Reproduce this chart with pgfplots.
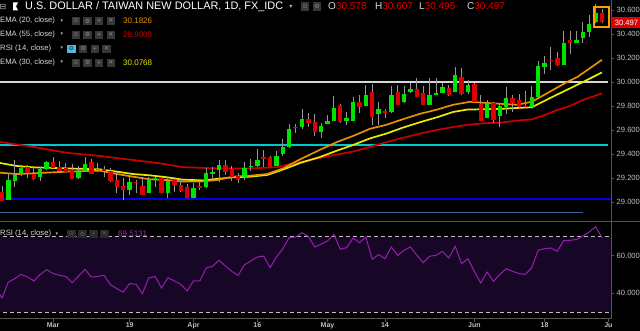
\documentclass[border=0pt]{standalone}
\usepackage{pgfplots}
\pgfplotsset{compat=1.18}
\usepackage{pgfplotstable}
\usepackage{fontspec}
\setmainfont{Liberation Sans}
\newfontfamily\dejavu{DejaVu Sans}
\definecolor{cgreen}{RGB}{0,226,0}
\definecolor{cred}{RGB}{222,0,0}
\definecolor{wick}{RGB}{150,150,150}
\definecolor{ema20}{RGB}{230,145,0}
\definecolor{ema30}{RGB}{235,235,0}
\definecolor{ema55}{RGB}{200,0,0}
\definecolor{rsiline}{RGB}{150,30,175}
\definecolor{rsibg}{RGB}{24,6,38}
\definecolor{axgray}{RGB}{85,85,85}
\definecolor{lblgray}{RGB}{190,190,190}
\definecolor{txtgray}{RGB}{215,215,215}
\definecolor{hcyan}{RGB}{0,200,210}
\definecolor{hblue}{RGB}{0,0,230}
\definecolor{hsteel}{RGB}{60,100,160}
\definecolor{hwhite}{RGB}{215,215,215}
\definecolor{iconbg}{RGB}{55,55,55}
\definecolor{iconfg}{RGB}{140,140,140}
\definecolor{iconbgd}{RGB}{42,42,42}
\definecolor{iconfgd}{RGB}{95,95,95}
\definecolor{icyan}{RGB}{80,185,225}
\definecolor{hlorange}{RGB}{255,160,0}

\pgfplotstableread{
i o h l c
0 29.081 29.133 29.011 29.011
1 29.017 29.239 29.017 29.183
2 29.178 29.350 29.128 29.225
3 29.230 29.308 29.217 29.286
4 29.289 29.308 29.197 29.239
5 29.233 29.300 29.183 29.192
6 29.206 29.294 29.175 29.278
7 29.278 29.344 29.267 29.331
8 29.333 29.372 29.275 29.286
9 29.294 29.342 29.253 29.258
10 29.281 29.322 29.247 29.253
11 29.267 29.314 29.189 29.194
12 29.197 29.303 29.192 29.250
13 29.258 29.372 29.253 29.317
14 29.336 29.361 29.233 29.236
15 29.265 29.322 29.253 29.272
16 29.275 29.300 29.211 29.260
17 29.258 29.280 29.169 29.175
18 29.183 29.253 29.072 29.128
19 29.136 29.197 29.017 29.100
20 29.100 29.217 29.058 29.164
21 29.169 29.183 29.078 29.156
22 29.133 29.206 29.058 29.058
23 29.072 29.211 29.072 29.189
24 29.183 29.211 29.128 29.203
25 29.197 29.211 29.072 29.078
26 29.078 29.211 29.031 29.178
27 29.183 29.206 29.086 29.142
28 29.142 29.197 29.086 29.094
29 29.128 29.150 29.031 29.031
30 29.031 29.161 29.031 29.114
31 29.136 29.170 29.100 29.120
32 29.122 29.281 29.114 29.239
33 29.233 29.289 29.183 29.247
34 29.267 29.350 29.170 29.306
35 29.306 29.350 29.225 29.253
36 29.272 29.300 29.178 29.211
37 29.217 29.239 29.161 29.183
38 29.206 29.336 29.183 29.281
39 29.295 29.355 29.261 29.303
40 29.300 29.439 29.289 29.350
41 29.372 29.433 29.294 29.356
42 29.378 29.383 29.281 29.281
43 29.300 29.428 29.300 29.383
44 29.400 29.522 29.383 29.456
45 29.456 29.650 29.447 29.606
46 29.628 29.650 29.578 29.614
47 29.622 29.772 29.606 29.689
48 29.689 29.739 29.628 29.661
49 29.664 29.731 29.550 29.586
50 29.586 29.661 29.536 29.633
51 29.653 29.725 29.653 29.675
52 29.678 29.883 29.678 29.780
53 29.808 29.817 29.656 29.669
54 29.675 29.753 29.642 29.697
55 29.678 29.878 29.678 29.836
56 29.836 29.892 29.744 29.794
57 29.800 29.975 29.800 29.892
58 29.919 29.983 29.642 29.711
59 29.733 29.836 29.642 29.772
60 29.758 29.775 29.697 29.739
61 29.753 29.967 29.744 29.889
62 29.917 29.975 29.808 29.808
63 29.836 29.967 29.828 29.900
64 29.920 29.989 29.906 29.944
65 29.944 30.030 29.878 29.878
66 29.911 29.967 29.806 29.806
67 29.806 30.030 29.806 29.894
68 29.889 30.030 29.889 29.905
69 29.905 29.989 29.905 29.956
70 29.947 29.975 29.883 29.892
71 29.920 30.122 29.920 30.061
72 30.039 30.114 29.892 29.897
73 29.920 30.017 29.900 29.975
74 29.983 29.989 29.836 29.836
75 29.817 29.892 29.678 29.678
76 29.697 29.850 29.697 29.822
77 29.822 29.836 29.656 29.683
78 29.717 29.817 29.628 29.800
79 29.794 29.956 29.733 29.864
80 29.864 29.892 29.753 29.822
81 29.850 29.900 29.781 29.794
82 29.803 29.928 29.789 29.789
83 29.789 29.967 29.789 29.872
84 29.878 30.178 29.878 30.133
85 30.128 30.217 30.067 30.161
86 30.181 30.294 30.100 30.175
87 30.203 30.253 30.133 30.142
88 30.142 30.428 30.142 30.322
89 30.350 30.428 30.233 30.322
90 30.322 30.428 30.322 30.350
91 30.364 30.503 30.328 30.419
92 30.419 30.558 30.378 30.483
93 30.503 30.650 30.489 30.578
94 30.578 30.607 30.495 30.497
}\ohlc

\pgfplotstableread{
i r
-1 43.0
0 37.4
1 45.9
2 47.7
3 50.0
4 48.6
5 46.5
6 50.0
7 52.5
8 50.4
9 49.5
10 48.9
11 45.6
12 49.1
13 52.7
14 48.6
15 48.9
16 49.5
17 44.5
18 42.4
19 40.6
20 45.1
21 44.7
22 39.8
23 48.1
24 48.9
25 42.7
26 48.2
27 46.5
28 44.7
29 41.2
30 46.5
31 46.5
32 53.4
33 54.3
34 57.5
35 54.4
36 51.6
37 49.5
38 55.1
39 57.1
40 59.2
41 59.7
42 53.6
43 59.2
44 63.6
45 69.5
46 69.8
47 72.1
48 70.2
49 64.5
50 66.0
51 67.7
52 71.3
53 63.3
54 64.2
55 69.3
56 66.8
57 69.8
58 58.0
59 60.5
60 58.3
61 64.5
62 60.1
63 62.8
64 64.5
65 60.1
66 56.2
67 59.6
68 60.1
69 62.2
70 58.7
71 64.9
72 55.7
73 58.3
74 51.6
75 45.4
76 51.2
77 46.3
78 50.0
79 53.0
80 51.6
81 50.4
82 50.0
83 53.5
84 62.8
85 63.6
86 64.0
87 62.2
88 67.9
89 68.1
90 68.5
91 70.4
92 72.5
93 75.3
94 69.5
}\rsi

\newcommand{\icn}[5]{\node[fill=#3, minimum width=8.3pt, minimum height=8.3pt, inner sep=0pt, text=#4, font=\dejavu\fontsize{6}{6}\selectfont] at (#1pt,#2pt) {#5};}
\newcommand{\rowlab}[2]{%
  \node[anchor=west, inner sep=0pt, text=txtgray, font=\fontsize{7.7}{9}\selectfont] at (0pt,#1pt) {#2};%
  \node[text=lblgray, font=\dejavu\fontsize{5}{5}\selectfont, inner sep=0pt] at (62pt,#1pt) {▾};}

\begin{document}
\begin{tikzpicture}
\fill[black] (0pt,0pt) rectangle (640pt,331pt);
\useasboundingbox (0pt,0pt) rectangle (640pt,331pt);

% ---------- price panel ----------
\begin{axis}[
  at={(0pt,110pt)}, anchor=south west,
  width=611pt, height=221pt, scale only axis,
  xmin=-0.31, xmax=95.41, ymin=28.8417, ymax=30.6833,
  axis x line=none, axis y line*=right,
  y axis line style={draw=axgray, line width=1pt},
  ytick={29,29.2,29.4,29.6,29.8,30,30.2,30.4,30.6},
  tick align=outside, major tick length=3pt,
  tick style={draw=axgray, line width=0.8pt},
  /pgf/number format/fixed, /pgf/number format/fixed zerofill,
  /pgf/number format/precision=3, /pgf/number format/assume math mode=true,
  yticklabel style={font=\fontsize{7.6}{8}\selectfont, text=lblgray, anchor=west, inner sep=0pt, xshift=2.5pt},
]
\addplot[hwhite, line width=1.8pt] coordinates {(-1,30.0) (94.9,30.0)};
\addplot[hcyan, line width=1.8pt] coordinates {(-1,29.472) (94.9,29.472)};
\addplot[hblue, line width=1.8pt] coordinates {(-1,29.028) (95.5,29.028)};
\addplot[hsteel, line width=1pt] coordinates {(-1,28.91) (91.0,28.91)};
\addplot[ema55, line width=1.7pt] coordinates {
(-0.31,29.50) (4.86,29.46) (10.18,29.41) (15.35,29.383) (20.52,29.35) (24.75,29.322) (28.36,29.29) (33.68,29.28) (38.85,29.28) (43.08,29.29) (45.12,29.317) (48.25,29.35) (51.86,29.39) (54.99,29.42) (57.65,29.46) (60.32,29.50) (62.82,29.535) (65.49,29.57) (68.15,29.60) (70.66,29.625) (72.85,29.642) (75.36,29.656) (78.02,29.661) (80.68,29.678) (83.03,29.689) (84.76,29.72) (86.95,29.765) (88.99,29.80) (91.02,29.85) (94,29.905)};
\addplot[ema30, line width=1.7pt] coordinates {
(-0.31,29.325) (2.35,29.30) (4.86,29.289) (10.18,29.28) (15.35,29.272) (18.02,29.253) (20.52,29.233) (23.19,29.222) (25.85,29.206) (28.36,29.186) (31.49,29.18) (36.19,29.206) (38.85,29.211) (41.52,29.225) (44.02,29.27) (46.69,29.325) (49.82,29.375) (52.48,29.428) (54.99,29.475) (57.65,29.53) (60.32,29.572) (62.82,29.62) (65.49,29.665) (68.15,29.706) (70.66,29.75) (72.85,29.77) (78.02,29.776) (83.03,29.79) (85.85,29.866) (88.52,29.935) (91.02,30.0) (94,30.08)};
\addplot[ema20, line width=1.7pt] coordinates {
(-0.31,29.244) (2.35,29.233) (4.86,29.239) (10.18,29.253) (15.35,29.261) (18.02,29.233) (20.52,29.211) (23.19,29.189) (25.85,29.183) (28.36,29.17) (31.02,29.17) (33.68,29.183) (36.19,29.211) (38.85,29.219) (41.52,29.233) (44.02,29.28) (46.69,29.355) (49.82,29.435) (52.48,29.50) (54.99,29.55) (57.65,29.61) (60.32,29.645) (62.82,29.69) (65.49,29.735) (68.15,29.77) (70.66,29.81) (73.32,29.835) (75.98,29.825) (80.68,29.81) (83.03,29.836) (85.85,29.92) (88.52,30.0) (90.08,30.04) (94,30.185)};
% wicks
\addplot[draw=wick, line width=0.9pt, line cap=butt,
  quiver={u={0}, v={\thisrow{h}-\thisrow{l}}}]
  table[x=i, y=l] {\ohlc};
% bodies up
\addplot[draw=cgreen, line width=4.4pt, line cap=butt,
  restrict expr to domain={\thisrow{c}-\thisrow{o}}{0:5},
  quiver={u={0}, v={max(\thisrow{c}-\thisrow{o},0.01)}}]
  table[x=i, y expr={\thisrow{o}-max(0,0.01-(\thisrow{c}-\thisrow{o}))/2}] {\ohlc};
% bodies down
\addplot[draw=cred, line width=4.4pt, line cap=butt,
  restrict expr to domain={\thisrow{o}-\thisrow{c}}{0.00001:5},
  quiver={u={0}, v={max(\thisrow{o}-\thisrow{c},0.01)}}]
  table[x=i, y expr={\thisrow{c}-max(0,0.01-(\thisrow{o}-\thisrow{c}))/2}] {\ohlc};
\draw[hlorange, line width=1.5pt] (axis cs:92.75,30.625) rectangle (axis cs:95.1,30.458);
\end{axis}

% ---------- RSI panel ----------
\begin{axis}[
  at={(0pt,12.3pt)}, anchor=south west,
  width=611pt, height=96.7pt, scale only axis,
  xmin=-0.31, xmax=95.41, ymin=26.44, ymax=77.81,
  axis x line*=bottom, axis y line*=right,
  x axis line style={draw=axgray, line width=1pt},
  y axis line style={draw=axgray, line width=1pt},
  xtick={8,20,30,40,51,60,74,85,95},
  xticklabels={Mar,19,Apr,16,May,14,Jun,18,Ju},
  ytick={40,60},
  tick align=outside, major tick length=3pt,
  tick style={draw=axgray, line width=0.8pt},
  /pgf/number format/fixed, /pgf/number format/fixed zerofill,
  /pgf/number format/precision=3, /pgf/number format/assume math mode=true,
  yticklabel style={font=\fontsize{7.6}{8}\selectfont, text=lblgray, anchor=west, inner sep=0pt, xshift=2.5pt},
  xticklabel style={font=\bfseries\fontsize{7}{8}\selectfont, text=lblgray, inner sep=1pt},
]
\addplot[fill=rsibg, draw=none] coordinates {(-1,30) (96,30) (96,70) (-1,70)} \closedcycle;
\addplot[draw=lblgray, line width=0.8pt, dash pattern=on 4pt off 3pt] coordinates {(-1,70) (96,70)};
\addplot[draw=lblgray, line width=0.8pt, dash pattern=on 4pt off 3pt] coordinates {(-1,30) (96,30)};
\addplot[rsiline, line width=1pt] table[x=i, y=r] {\rsi};
\end{axis}

\draw[axgray, line width=1pt] (0pt,109.5pt) -- (640pt,109.5pt);
\draw[axgray, line width=1pt] (611pt,12.3pt) -- (611pt,331pt);

\node[fill=cred, text=white, anchor=west, minimum height=10.7pt, minimum width=29.5pt, inner sep=0pt,
  font=\fontsize{7.6}{8}\selectfont] at (610.5pt,308.3pt) {\hspace*{2pt}30.497};

% ---------- legend texts ----------
\node[text=lblgray, font=\dejavu\fontsize{8}{8}\selectfont, inner sep=0pt] at (3pt,324.5pt) {⊟};
\fill[white] (13pt,320.5pt) -- (13pt,328.5pt) -- (18pt,328.5pt) -- (16pt,324.5pt) -- (18pt,320.5pt) -- cycle;
\node[anchor=west, inner sep=0pt, text=white, font=\fontsize{10.9}{12}\selectfont] at (25pt,324.5pt) {U.S. DOLLAR / TAIWAN NEW DOLLAR, 1D, FX\_IDC};
\node[text=lblgray, font=\dejavu\fontsize{6}{6}\selectfont, inner sep=0pt] at (291pt,324.5pt) {▾};
\icn{305}{324.5}{iconbg}{iconfg}{⊙}
\icn{317}{324.5}{iconbg}{iconfg}{⚙}
\node[anchor=west, inner sep=0pt, font=\fontsize{10}{12}\selectfont] at (328pt,324.5pt) {\textcolor{txtgray}{O}\textcolor{cred}{30.578}};
\node[anchor=west, inner sep=0pt, font=\fontsize{10}{12}\selectfont] at (375pt,324.5pt) {\textcolor{txtgray}{H}\textcolor{cred}{30.607}};
\node[anchor=west, inner sep=0pt, font=\fontsize{10}{12}\selectfont] at (419pt,324.5pt) {\textcolor{txtgray}{L}\textcolor{cred}{30.495}};
\node[anchor=west, inner sep=0pt, font=\fontsize{10}{12}\selectfont] at (467pt,324.5pt) {\textcolor{txtgray}{C}\textcolor{cred}{30.497}};

\rowlab{310}{EMA (20, close)}
\rowlab{296.3}{EMA (55, close)}
\rowlab{282.3}{RSI (14, close)}
\rowlab{268.3}{EMA (30, close)}
\icn{75.9}{310}{iconbg}{iconfg}{⊙}\icn{87.5}{310}{iconbg}{iconfg}{⚙}\icn{99.2}{310}{iconbg}{iconfg}{+}\icn{110.9}{310}{iconbg}{iconfg}{✕}
\icn{75.9}{296.3}{iconbg}{iconfg}{⊙}\icn{87.5}{296.3}{iconbg}{iconfg}{⚙}\icn{99.2}{296.3}{iconbg}{iconfg}{+}\icn{110.9}{296.3}{iconbg}{iconfg}{✕}
\icn{71.5}{282.3}{icyan}{black}{⊙}\icn{83.2}{282.3}{iconbg}{iconfg}{⚙}\icn{94.9}{282.3}{iconbg}{iconfg}{+}\icn{106.6}{282.3}{iconbg}{iconfg}{✕}
\icn{75.9}{268.3}{iconbg}{iconfg}{⊙}\icn{87.5}{268.3}{iconbg}{iconfg}{⚙}\icn{99.2}{268.3}{iconbg}{iconfg}{+}\icn{110.9}{268.3}{iconbg}{iconfg}{✕}
\node[anchor=west, inner sep=0pt, text=ema20, font=\fontsize{8}{9}\selectfont] at (123pt,310pt) {30.1826};
\node[anchor=west, inner sep=0pt, text=ema55, font=\fontsize{8}{9}\selectfont] at (123pt,296.3pt) {29.9003};
\node[anchor=west, inner sep=0pt, text=ema30, font=\fontsize{8}{9}\selectfont] at (123pt,268.3pt) {30.0768};

\node[anchor=west, inner sep=0pt, text=txtgray, font=\fontsize{7.7}{9}\selectfont] at (0pt,97pt) {RSI (14, close)};
\node[text=lblgray, font=\dejavu\fontsize{5}{5}\selectfont, inner sep=0pt] at (57pt,97pt) {▾};
\icn{71.5}{97}{iconbgd}{iconfgd}{⊙}\icn{82.5}{97}{iconbgd}{iconfgd}{⚙}\icn{93.5}{97}{iconbgd}{iconfgd}{+}\icn{104.5}{97}{iconbgd}{iconfgd}{✕}
\node[anchor=west, inner sep=0pt, text=rsiline!90!white, font=\fontsize{8}{9}\selectfont] at (118pt,97pt) {69.5131};
\end{tikzpicture}
\end{document}
